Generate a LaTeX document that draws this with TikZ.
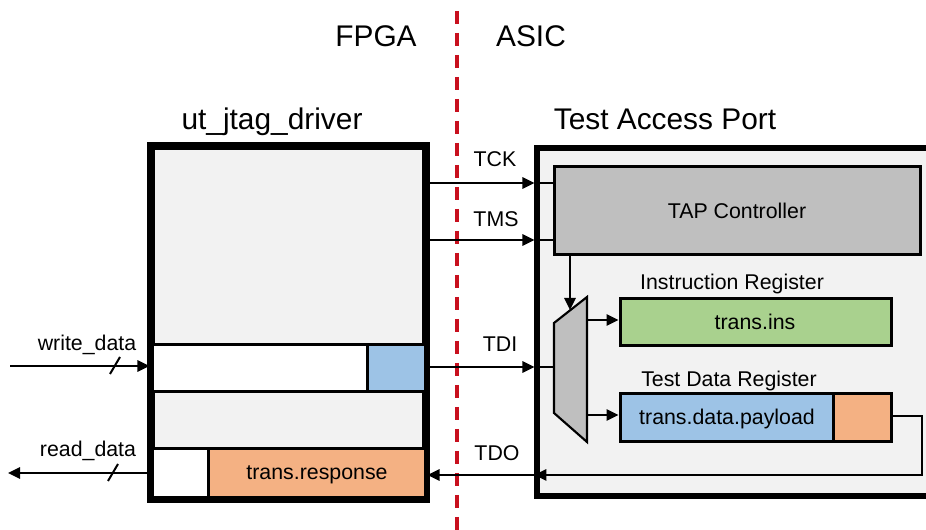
\documentclass[tikz,border=0pt]{standalone}
\usepackage{fontspec}
\setmainfont{Liberation Sans}
\usetikzlibrary{arrows.meta,fit,calc}
\definecolor{bggray}{HTML}{F2F2F2}
\definecolor{tapgray}{HTML}{BFBFBF}
\definecolor{regGreen}{HTML}{A9D18E}
\definecolor{regBlue}{HTML}{9DC3E6}
\definecolor{regOrange}{HTML}{F4B183}
\definecolor{divRed}{HTML}{C8101E}
\begin{document}
\begin{tikzpicture}[x=0.75pt,y=-0.75pt,
  big/.style={font=\fontsize{22.4}{26}\selectfont, anchor=base, inner sep=0pt},
  small/.style={font=\fontsize{16}{19}\selectfont, anchor=base, inner sep=0pt},
  outer/.style={draw=black, line width=3.9pt, fill=bggray, inner sep=0pt},
  cell/.style={draw=black, line width=2.25pt, inner sep=0pt},
  wire/.style={line width=1.5pt},
  arr/.style={wire, -{Triangle[length=9pt,width=8.5pt]}},
]
\useasboundingbox (0,0) rectangle (926,530);
\clip (0,0) rectangle (926,530);

% titles
\node[big] (fpga) at (376,47) {FPGA};
\node[big] (asic) at (531,47) {ASIC};
\node[big] (drvlbl) at (272,130) {ut\_jtag\_driver};
\node[big] (taplbl) at (665,130) {Test Access Port};

% divider
\coordinate (divtop) at (457,11);
\coordinate (divbot) at (457,540);
\draw[divRed, line width=2.4pt, dash pattern=on 9.75pt off 6.75pt] (divtop) -- (divbot);

% driver box
\node[outer, fit={(152,147)(425,498)}] (drv) {};
\node[cell, fill=white, fit={(152,345)(425,392)}] (wrow) {};
\node[cell, fill=regBlue, fit={(367,345)(425,392)}] (wbit) {};
\node[cell, fill=white, fit={(152,449)(208,498)}] (rpad) {};
\node[cell, fill=regOrange, fit={(208,449)(425,498)}] (resp) {};
\draw[line width=3.9pt] (drv.north west) rectangle (drv.south east);
\node[small] (resptxt) at (317,480) {trans.response};

% TAP box
\node[outer, fit={(537,148)(960,496)}] (tap) {};
\node[cell, fill=tapgray, fit={(554,167)(920,255)}] (ctrl) {};
\node[small] (ctrltxt) at (737,219) {TAP Controller};

\coordinate (mA) at (554,323);
\coordinate (mB) at (587,297);
\coordinate (mC) at (587,442);
\coordinate (mD) at (554,413);
\draw[fill=tapgray, line width=1.6pt] (mA) -- (mB) -- (mC) -- (mD) -- cycle;

\node[small] (irlbl) at (732,290) {Instruction Register};
\node[cell, fill=regGreen, fit={(620,299)(891,346)}] (ir) {};
\node[small] (irtxt) at (755,330) {trans.ins};

\node[small] (drlbl) at (729,387) {Test Data Register};
\node[cell, fill=regBlue, fit={(620,394)(833,442)}] (dr) {};
\node[cell, fill=regOrange, fit={(833,394)(891,442)}] (drbit) {};
\node[small] (drtxt) at (727,425) {trans.data.payload};

% y-levels
\coordinate (yTCK) at (0,183);
\coordinate (yTMS) at (0,240);
\coordinate (yTDI) at (0,367);
\coordinate (yTDO) at (0,475);
\coordinate (wsrc) at (10,366);
\coordinate (rdst) at (8,473);
\coordinate (muxin) at (554,367);
\coordinate (muxsel) at (570,310);
\coordinate (muxo1) at (587,320);
\coordinate (muxo2) at (587,415);
\coordinate (tdoR) at (922,416);
\coordinate (tdoB) at (922,475);

% signals
\draw[arr] (drv.east |- yTCK) -- (tap.west |- yTCK);
\draw[wire] (tap.west |- yTCK) -- (ctrl.west |- yTCK);
\node[small] (tcklbl) at (495,167) {TCK};

\draw[arr] (drv.east |- yTMS) -- (tap.west |- yTMS);
\draw[wire] (tap.west |- yTMS) -- (ctrl.west |- yTMS);
\node[small] (tmslbl) at (496,227) {TMS};

\draw[arr] (drv.east |- yTDI) -- (tap.west |- yTDI);
\draw[wire] (tap.west |- yTDI) -- (muxin);
\node[small] (tdilbl) at (500,352) {TDI};

\draw[arr] (drbit.east |- tdoR) -- (tdoR) -- (tdoB) -- (tap.west |- tdoB);
\draw[arr] (tap.west |- tdoB) -- (drv.east |- tdoB);
\node[small] (tdolbl) at (497,461) {TDO};

\draw[arr] (ctrl.south -| muxsel) -- (muxsel);
\draw[arr] (muxo1) -- (ir.west |- muxo1);
\draw[arr] (muxo2) -- (dr.west |- muxo2);

% external data
\draw[arr] (wsrc) -- (drv.west |- wsrc);
\coordinate (ws1) at (110,374);
\coordinate (ws2) at (120,357);
\draw[wire] (ws1) -- (ws2);
\node[small] (wrlbl) at (87,351) {write\_data};

\draw[arr] (drv.west |- rdst) -- (rdst);
\coordinate (rs1) at (108,481);
\coordinate (rs2) at (118,464);
\draw[wire] (rs1) -- (rs2);
\node[small] (rdlbl) at (88,457) {read\_data};
\end{tikzpicture}
\end{document}
